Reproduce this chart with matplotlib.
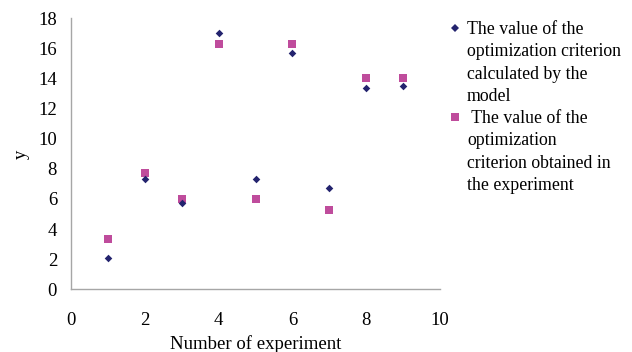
import matplotlib
matplotlib.use("Agg")
import matplotlib.pyplot as plt
from matplotlib.lines import Line2D

plt.rcParams['font.family'] = ['Liberation Serif', 'DejaVu Serif']

experiment = [1, 2, 3, 4, 5, 6, 7, 8, 9]
model_values = [2.07, 7.35, 5.73, 17.04, 7.35, 15.69, 6.73, 13.4, 13.53]
experiment_values = [3.37, 7.71, 5.97, 16.29, 5.97, 16.29, 5.27, 14.04, 14.04]

model_label = "The value of the\noptimization criterion\ncalculated by the\nmodel"
experiment_label = " The value of the\noptimization\ncriterion obtained in\nthe experiment"

x_ticks = [0, 2, 4, 6, 8, 10]
y_ticks = [0, 2, 4, 6, 8, 10, 12, 14, 16, 18]

navy = '#23236e'
magenta = '#bf4c9c'
spine_grey = '#a6a6a6'

fig = plt.figure(figsize=(6.32, 3.52), dpi=100)
ax = fig.add_axes([0.1123, 0.178, 0.584, 0.770])

ax.scatter(experiment, model_values, marker='D', s=15, color=navy, zorder=3,
           linewidths=0)
ax.scatter(experiment, experiment_values, marker='s', s=34, color=magenta,
           zorder=2, linewidths=0)

ax.set_xlim(0, 10)
ax.set_ylim(0, 18)
ax.set_xticks(x_ticks)
ax.set_yticks(y_ticks)
ax.tick_params(length=0, labelsize=13.5)
ax.tick_params(axis='x', pad=16)
ax.tick_params(axis='y', pad=10)
for side in ('top', 'right'):
    ax.spines[side].set_visible(False)
for side in ('left', 'bottom'):
    ax.spines[side].set_color(spine_grey)
    ax.spines[side].set_linewidth(1.0)

ax.set_xlabel("Number of experiment", fontsize=13.5, labelpad=5)
ax.set_ylabel("y", fontsize=13.5, labelpad=6)

# Legend drawn by hand so each marker sits beside the first line of its label
W, H = 632.0, 352.0
entries = [
    (model_label, 'D', navy, 4.3, 28.0, 467.0),
    (experiment_label, 's', magenta, 6.0, 117.0, 467.0),
]
for label, mk, col, ms, y_mid, x_text in entries:
    fig.add_artist(Line2D([455.0 / W], [1 - y_mid / H], marker=mk,
                          markersize=ms, color=col, linestyle='none',
                          markeredgewidth=0, transform=fig.transFigure))
    fig.text(x_text / W, 1 - (y_mid - 7) / H, label, fontsize=12.8,
             va='top', ha='left', linespacing=1.42)

fig.savefig("out.png", dpi=100)
